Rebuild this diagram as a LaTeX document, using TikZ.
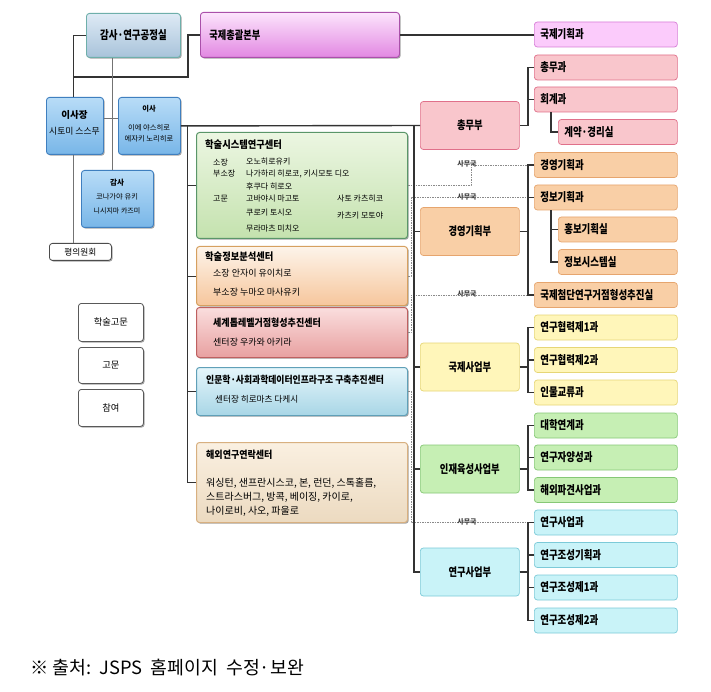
\documentclass[tikz,border=0pt]{standalone}
\usepackage{fontspec}
\setmainfont{Noto Sans CJK KR}
\newfontfamily\cnd{Noto Sans CJK KR}[FakeStretch=0.8]
\newfontfamily\cndb{Noto Sans CJK KR}[FakeStretch=0.9]
\usetikzlibrary{shadows}
\newcommand{\kfs}[1]{\fontsize{#1}{#1}\selectfont}
\definecolor{pinkF}{HTML}{F9C6CC}\definecolor{pinkD}{HTML}{E0708A}
\definecolor{oranF}{HTML}{F9CFA6}\definecolor{oranD}{HTML}{E6A56E}
\definecolor{yellF}{HTML}{FFF6BA}\definecolor{yellD}{HTML}{E6D676}
\definecolor{grnF}{HTML}{C6EFB4}\definecolor{grnD}{HTML}{86C876}
\definecolor{cyanF}{HTML}{C9F3F8}\definecolor{cyanD}{HTML}{7CCAD8}
\definecolor{violF}{HTML}{FBCBFB}\definecolor{violD}{HTML}{D77ED7}
\definecolor{lineC}{HTML}{333333}
\definecolor{dashC}{HTML}{8A8A8A}
\begin{document}
\begin{tikzpicture}[x=1pt,y=-1pt,
  shd/.style={drop shadow={shadow xshift=1.2pt,shadow yshift=-1.2pt,opacity=0.35,fill=black}},
  box/.style={draw, rounded corners=3pt, line width=0.7pt},
  sec/.style={box, anchor=west, text width=131pt, inner xsep=6pt, inner ysep=0pt,
     minimum height=25pt, align=left, font=\cnd\bfseries\kfs{11.8}},
  subsec/.style={sec, text width=107pt},
  dept/.style={box, anchor=west, minimum width=99pt, minimum height=48pt, inner sep=0pt,
     font=\cnd\bfseries\kfs{11.6}},
  bluebox/.style={box, shd, anchor=north west, inner sep=0pt,
     top color={rgb,255:red,184;green,220;blue,247}, bottom color={rgb,255:red,120;green,182;blue,232},
     draw={rgb,255:red,63;green,127;blue,191}, line width=0.9pt},
  whitebox/.style={box, shd, anchor=north west, inner sep=0pt, fill=white, draw=black!65, line width=0.8pt,
     font=\kfs{9.3}},
  cbox/.style={box, shd, anchor=north west, inner sep=0pt, minimum width=211pt, line width=1pt},
  ctitle/.style={anchor=west, inner sep=0pt, font=\cndb\bfseries\kfs{10.3}},
  ctext/.style={anchor=west, inner sep=0pt, font=\kfs{8}},
  btext/.style={inner sep=0pt, font=\kfs{7.3}},
  conn/.style={line width=1.4pt, draw=lineC},
  cline/.style={line width=0.9pt, draw=lineC},
  thinline/.style={line width=0.7pt, draw=black!55},
  dline/.style={line width=0.6pt, draw=dashC, dash pattern=on 1.5pt off 1pt},
  smk/.style={inner sep=0pt, font=\bfseries\kfs{7}, text=black!75}
]
\useasboundingbox[fill=white] (0,0) rectangle (711,692);

% ---------------- left top group ----------------
\node[box, shd, anchor=north west, minimum width=94pt, minimum height=44pt, inner sep=0pt,
  top color={rgb,255:red,222;green,234;blue,245}, bottom color={rgb,255:red,168;green,195;blue,218},
  draw={rgb,255:red,110;green,175;blue,170}, line width=0.9pt, font=\cnd\bfseries\kfs{11.8}] (lab) at (86,13) {감사·연구공정실};
\node[box, shd, anchor=north west, text width=181pt, inner xsep=9pt, inner ysep=0pt, minimum height=45pt, align=left,
  top color={rgb,255:red,252;green,228;blue,252}, bottom color={rgb,255:red,226;green,136;blue,226},
  draw={rgb,255:red,170;green,80;blue,170}, line width=0.9pt, font=\cnd\bfseries\kfs{11.5}] (hq) at (200,12) {국제총괄본부};

\node[bluebox, minimum width=57pt, minimum height=57pt] (chair) at (46,97) {};
\node[btext, font=\bfseries\kfs{9.5}] (chairT) at (74.5,115) {이사장};
\node[btext, font=\kfs{8.8}] (chairN) at (74.5,131) {시토미 스스무};
\node[bluebox, minimum width=62pt, minimum height=57pt] (dir) at (118,97) {};
\node[btext, font=\bfseries\kfs{7.3}] (dirT) at (149,109) {이사};
\node[btext] (dirN1) at (149,127.5) {이에 야스히로};
\node[btext] (dirN2) at (149,138.5) {에자키 노리히로};
\node[bluebox, minimum width=72pt, minimum height=57pt] (aud) at (81,170) {};
\node[btext, font=\bfseries\kfs{7.6}] (audT) at (117,183) {감사};
\node[btext] (audN1) at (117,197) {코나가야 유키};
\node[btext, font=\kfs{7}] (audN2) at (117,211) {니시지마 카즈미};
\node[box, shd, anchor=north west, minimum width=62pt, minimum height=17pt, inner sep=0pt, fill=white,
  draw=black!70, line width=0.8pt, font=\kfs{8.7}] (council) at (49,243) {평의원회};

\node[whitebox, minimum width=65pt, minimum height=38pt] (adv1) at (78,303) {학술고문};
\node[whitebox, minimum width=65pt, minimum height=36pt] (adv2) at (78,347) {고문};
\node[whitebox, minimum width=65pt, minimum height=37pt] (adv3) at (78,389) {참여};

% ---------------- centers ----------------
\node[cbox, minimum height=106pt, top color={rgb,255:red,236;green,246;blue,226}, bottom color={rgb,255:red,196;green,226;blue,174},
  draw={rgb,255:red,90;green,150;blue,105}] (sys) at (196,132) {};
\node[ctitle] (sysT) at (205,145) {학술시스템연구센터};
\node[ctext] (s1) at (213,162) {소장};
\node[ctext] (s2) at (246,162) {오노히로유키};
\node[ctext] (s3) at (213,173.5) {부소장};
\node[ctext] (s4) at (246,173.5) {나가하리 히로코, 키시모토 디오};
\node[ctext] (s5) at (246,186) {후쿠다 히로오};
\node[ctext] (s6) at (213,199) {고문};
\node[ctext] (s7) at (246,199) {고바야시 마고토};
\node[ctext] (s8) at (337,199) {사토 카츠히코};
\node[ctext] (s9) at (246,213) {쿠로키 토시오};
\node[ctext] (s10) at (337,216) {카츠키 모토야};
\node[ctext] (s11) at (246,229) {무라마츠 미치오};

\node[cbox, minimum height=59pt, top color={rgb,255:red,253;green,244;blue,234}, bottom color={rgb,255:red,246;green,198;blue,156},
  draw={rgb,255:red,214;green,160;blue,96}] (info) at (196,246) {};
\node[ctitle] (infoT) at (205,257) {학술정보분석센터};
\node[ctext, font=\kfs{9}] (i1) at (213,273.5) {소장 안자이 유이치로};
\node[ctext, font=\kfs{9}] (i2) at (213,292) {부소장 누마오 마사유키};

\node[cbox, minimum height=50pt, top color={rgb,255:red,250;green,222;blue,222}, bottom color={rgb,255:red,232;green,160;blue,160},
  draw={rgb,255:red,190;green,96;blue,96}] (wtl) at (196,307) {};
\node[ctitle, font=\cndb\bfseries\kfs{10}] (wtlT) at (213,323) {세계톱레벨거점형성추진센터};
\node[ctext, font=\kfs{9}] (w1) at (213,342) {센터장 우카와 아키라};

\node[cbox, minimum height=48pt, top color={rgb,255:red,230;green,246;blue,251}, bottom color={rgb,255:red,168;green,214;blue,230},
  draw={rgb,255:red,96;green,160;blue,184}] (hum) at (196,367) {};
\node[ctitle, font=\cndb\bfseries\kfs{9.8}] (humT) at (206,380) {인문학·사회과학데이터인프라구조 구축추진센터};
\node[ctext, font=\kfs{8.6}] (h1) at (215,399.5) {센터장 히로마츠 다케시};

\node[cbox, minimum height=80pt, top color={rgb,255:red,250;green,240;blue,225}, bottom color={rgb,255:red,236;green,218;blue,192},
  draw={rgb,255:red,216;green,176;blue,128}] (ovs) at (196,442) {};
\node[ctitle, font=\cndb\bfseries\kfs{10}] (ovsT) at (206,455) {해외연구연락센터};
\node[ctext, font=\kfs{10}] (o1) at (206,483) {워싱턴, 샌프란시스코, 본, 런던, 스톡홀름,};
\node[ctext, font=\kfs{10}] (o2) at (206,497) {스트라스버그, 방콕, 베이징, 카이로,};
\node[ctext, font=\kfs{10}] (o3) at (206,511) {나이로비, 사오, 파울로};

% ---------------- departments ----------------
\node[dept, fill=pinkF, draw=pinkD] (gen) at (420,125.5) {총무부};
\node[dept, fill=oranF, draw=oranD] (mgt) at (420,231.5) {경영기획부};
\node[dept, fill=yellF, draw=yellD] (intl) at (420,367) {국제사업부};
\node[dept, fill=grnF, draw=grnD] (hr) at (420,469) {인재육성사업부};
\node[dept, fill=cyanF, draw=cyanD] (res) at (420,572) {연구사업부};

% ---------------- sections ----------------
\node[sec, fill=violF, draw=violD] (ip) at (534,34.5) {국제기획과};
\node[sec, fill=pinkF, draw=pinkD] (g1) at (534,67.5) {총무과};
\node[sec, fill=pinkF, draw=pinkD] (g2) at (534,99.5) {회계과};
\node[subsec, fill=pinkF, draw=pinkD] (g3) at (558,132) {계약·경리실};
\node[sec, fill=oranF, draw=oranD] (mp1) at (534,165) {경영기획과};
\node[sec, fill=oranF, draw=oranD] (mp2) at (534,197.5) {정보기획과};
\node[subsec, fill=oranF, draw=oranD] (mp3) at (558,229.5) {홍보기획실};
\node[subsec, fill=oranF, draw=oranD] (mp4) at (558,262) {정보시스템실};
\node[sec, fill=oranF, draw=oranD] (mp5) at (534,295) {국제첨단연구거점형성추진실};
\node[sec, fill=yellF, draw=yellD] (ib1) at (534,327.5) {연구협력제1과};
\node[sec, fill=yellF, draw=yellD] (ib2) at (534,360) {연구협력제2과};
\node[sec, fill=yellF, draw=yellD] (ib3) at (534,392.5) {인물교류과};
\node[sec, fill=grnF, draw=grnD] (hr1) at (534,425.5) {대학연계과};
\node[sec, fill=grnF, draw=grnD] (hr2) at (534,457.5) {연구자양성과};
\node[sec, fill=grnF, draw=grnD] (hr3) at (534,490) {해외파견사업과};
\node[sec, fill=cyanF, draw=cyanD] (rp1) at (534,522.5) {연구사업과};
\node[sec, fill=cyanF, draw=cyanD] (rp2) at (534,555) {연구조성기획과};
\node[sec, fill=cyanF, draw=cyanD] (rp3) at (534,587.5) {연구조성제1과};
\node[sec, fill=cyanF, draw=cyanD] (rp4) at (534,620.5) {연구조성제2과};

% ---------------- dashed 사무국 links ----------------
\draw[dline] (sys.east) -- ++(63,0) |- (mp1.west);
\draw[dline] (info.east) -- ++(3,0) |- (mp2.west);
\draw[dline] (wtl.east) -- ++(3,0) |- (mp5.west);
\draw[dline] (hum.east) -- ++(3,0) |- (rp1.west);
\node[smk] (k1) at (467,164) {사무국};
\node[smk] (k2) at (467,196.5) {사무국};
\node[smk] (k3) at (467,294) {사무국};
\node[smk] (k4) at (467,521.5) {사무국};

% ---------------- solid connectors ----------------
\draw[conn] (lab.west) -| ([xshift=-1.5pt]chair.north);
\draw[conn] ([xshift=-1.5pt]chair.north |- 0,77) -| ([xshift=-12pt]hq.west) -- (hq.west);
\draw[conn] (hq.east) -- (hq.east -| ip.west);
\draw[thinline] ([xshift=26pt]lab.south west) -- ([xshift=26pt]lab.south west |- aud.north);
\draw[thinline] (chair.east |- 0,118) -- (dir.west |- 0,118);
\draw[thinline] ([xshift=-1.5pt]chair.south) -- ([xshift=-1.5pt]chair.south |- council.north);
\draw[conn] (dir.east) -- (gen.west);
\draw[conn] ([xshift=-6pt]gen.west) |- (res.west);
\draw[conn] (mgt.west) -- ++(-6,0);
\draw[conn] (intl.west) -- ++(-6,0);
\draw[conn] (hr.west) -- ++(-6,0);
% centers spine
\draw[cline] ([xshift=-9pt]sys.north west |- dir.east) |- (ovs.west);
\draw[cline] (sys.west) -- ++(-9,0);
\draw[cline] (info.west) -- ++(-9,0);
\draw[cline] (hum.west) -- ++(-9,0);
% brackets
\draw[conn] (g1.west) -- ++(-6,0) |- (gen.east);
\draw[conn] (g2.west) -- ++(-6,0);
\draw[conn] ([xshift=17pt]g2.south west) |- (g3.west);
\draw[conn] (mp1.west) -- ++(-6,0) |- (mp5.west);
\draw[conn] (mp2.west) -- ++(-6,0);
\draw[conn] (mgt.east) -- ++(9,0);
\draw[conn] ([xshift=17pt]mp2.south west) |- (mp4.west);
\draw[conn] (mp3.west) -- ++(-7,0);
\draw[conn] (ib1.west) -- ++(-6,0) |- (ib3.west);
\draw[conn] (ib2.west) -- ++(-6,0);
\draw[conn] (intl.east) -- ++(9,0);
\draw[conn] (hr1.west) -- ++(-6,0) |- (hr3.west);
\draw[conn] (hr2.west) -- ++(-6,0);
\draw[conn] (hr.east) -- ++(9,0);
\draw[conn] (rp1.west) -- ++(-6,0) |- (rp4.west);
\draw[conn] (rp2.west) -- ++(-6,0);
\draw[conn] (rp3.west) -- ++(-6,0);
\draw[conn] (res.east) -- ++(9,0);

% ---------------- footer ----------------
\node[anchor=west, inner sep=0pt, font=\kfs{18.3}] (src) at (30,668) {※ 출처:\ \ JSPS\ \ 홈페이지\ \ 수정·보완};
\end{tikzpicture}
\end{document}
